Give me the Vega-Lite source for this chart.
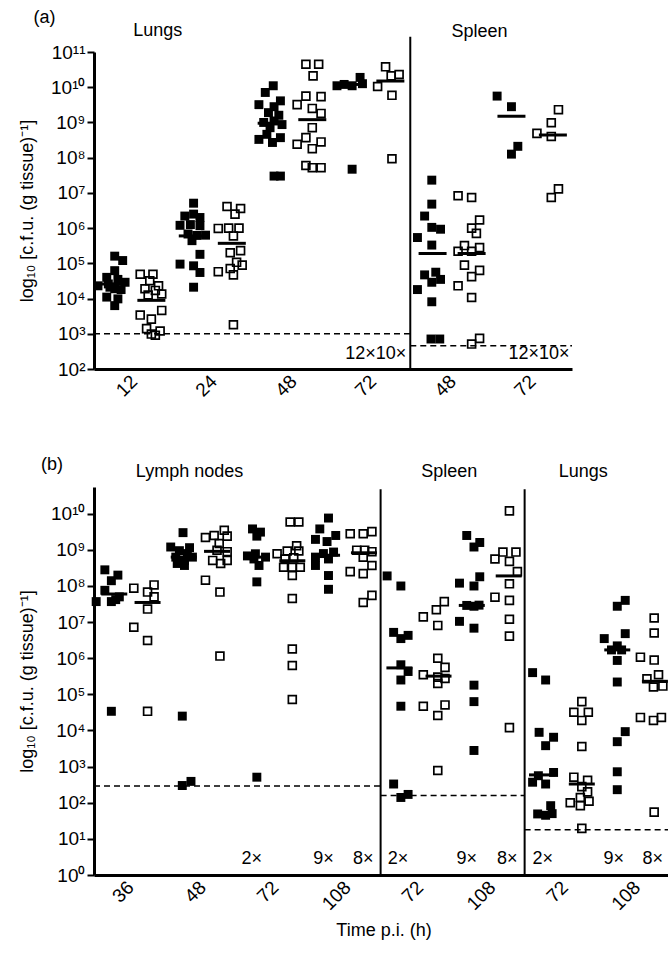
{
  "$schema": "https://vega.github.io/schema/vega-lite/v6.json",
  "background": "white",
  "padding": {"left": 18, "top": 8, "right": 0, "bottom": 0},
  "config": {
    "font": "Liberation Sans",
    "view": {"stroke": null},
    "axis": {"grid": false, "domainColor": "black", "domainWidth": 3, "tickColor": "black", "labelColor": "black", "titleColor": "black", "titleFontWeight": "normal", "labelOverlap": false, "labelBound": false, "labelFlush": false}
  },
  "spacing": 118,
  "bounds": "flush",
  "datasets": {
    "points_a": [
      {"organ":"Lungs","time":12,"group":1,"x":0.26,"cfu":1.6e5},{"organ":"Lungs","time":12,"group":1,"x":0.36,"cfu":1.2e5},{"organ":"Lungs","time":12,"group":1,"x":0.26,"cfu":6.2e4},{"organ":"Lungs","time":12,"group":1,"x":0.16,"cfu":4.0e4},{"organ":"Lungs","time":12,"group":1,"x":0.30,"cfu":3.5e4},{"organ":"Lungs","time":12,"group":1,"x":0.39,"cfu":2.9e4},{"organ":"Lungs","time":12,"group":1,"x":0.05,"cfu":2.3e4},{"organ":"Lungs","time":12,"group":1,"x":0.18,"cfu":2.6e4},{"organ":"Lungs","time":12,"group":1,"x":0.26,"cfu":1.9e4},{"organ":"Lungs","time":12,"group":1,"x":0.34,"cfu":1.8e4},{"organ":"Lungs","time":12,"group":1,"x":0.16,"cfu":1.1e4},{"organ":"Lungs","time":12,"group":1,"x":0.30,"cfu":9.8e3},{"organ":"Lungs","time":12,"group":1,"x":0.26,"cfu":6.3e3},{"organ":"Lungs","time":12,"group":1,"x":0.20,"cfu":2.1e4},
      {"organ":"Lungs","time":12,"group":2,"x":0.58,"cfu":4.9e4},{"organ":"Lungs","time":12,"group":2,"x":0.74,"cfu":4.9e4},{"organ":"Lungs","time":12,"group":2,"x":0.70,"cfu":3.2e4},{"organ":"Lungs","time":12,"group":2,"x":0.81,"cfu":2.3e4},{"organ":"Lungs","time":12,"group":2,"x":0.64,"cfu":1.9e4},{"organ":"Lungs","time":12,"group":2,"x":0.77,"cfu":1.7e4},{"organ":"Lungs","time":12,"group":2,"x":0.85,"cfu":1.35e4},{"organ":"Lungs","time":12,"group":2,"x":0.68,"cfu":1.26e4},{"organ":"Lungs","time":12,"group":2,"x":0.85,"cfu":4.6e3},{"organ":"Lungs","time":12,"group":2,"x":0.58,"cfu":3.4e3},{"organ":"Lungs","time":12,"group":2,"x":0.72,"cfu":2.6e3},{"organ":"Lungs","time":12,"group":2,"x":0.66,"cfu":1.4e3},{"organ":"Lungs","time":12,"group":2,"x":0.83,"cfu":1.2e3},{"organ":"Lungs","time":12,"group":2,"x":0.72,"cfu":9.8e2},{"organ":"Lungs","time":12,"group":2,"x":0.77,"cfu":9.1e2},
      {"organ":"Lungs","time":24,"group":1,"x":1.25,"cfu":5.1e6},{"organ":"Lungs","time":24,"group":1,"x":1.14,"cfu":2.2e6},{"organ":"Lungs","time":24,"group":1,"x":1.25,"cfu":2.5e6},{"organ":"Lungs","time":24,"group":1,"x":1.33,"cfu":2.0e6},{"organ":"Lungs","time":24,"group":1,"x":1.08,"cfu":1.2e6},{"organ":"Lungs","time":24,"group":1,"x":1.21,"cfu":1.26e6},{"organ":"Lungs","time":24,"group":1,"x":1.33,"cfu":1.17e6},{"organ":"Lungs","time":24,"group":1,"x":1.18,"cfu":6.8e5},{"organ":"Lungs","time":24,"group":1,"x":1.29,"cfu":6.2e5},{"organ":"Lungs","time":24,"group":1,"x":1.40,"cfu":6.3e5},{"organ":"Lungs","time":24,"group":1,"x":1.23,"cfu":4.4e5},{"organ":"Lungs","time":24,"group":1,"x":1.33,"cfu":1.8e5},{"organ":"Lungs","time":24,"group":1,"x":1.08,"cfu":9.5e4},{"organ":"Lungs","time":24,"group":1,"x":1.25,"cfu":8.5e4},{"organ":"Lungs","time":24,"group":1,"x":1.33,"cfu":5.5e4},{"organ":"Lungs","time":24,"group":1,"x":1.25,"cfu":2.1e4},
      {"organ":"Lungs","time":24,"group":2,"x":1.67,"cfu":4.1e6},{"organ":"Lungs","time":24,"group":2,"x":1.84,"cfu":3.6e6},{"organ":"Lungs","time":24,"group":2,"x":1.77,"cfu":2.5e6},{"organ":"Lungs","time":24,"group":2,"x":1.56,"cfu":9.8e5},{"organ":"Lungs","time":24,"group":2,"x":1.69,"cfu":1.0e6},{"organ":"Lungs","time":24,"group":2,"x":1.82,"cfu":1.0e6},{"organ":"Lungs","time":24,"group":2,"x":1.75,"cfu":6.0e5},{"organ":"Lungs","time":24,"group":2,"x":1.84,"cfu":2.3e5},{"organ":"Lungs","time":24,"group":2,"x":1.71,"cfu":2.0e5},{"organ":"Lungs","time":24,"group":2,"x":1.79,"cfu":1.07e5},{"organ":"Lungs","time":24,"group":2,"x":1.86,"cfu":8.9e4},{"organ":"Lungs","time":24,"group":2,"x":1.56,"cfu":5.8e4},{"organ":"Lungs","time":24,"group":2,"x":1.71,"cfu":7.1e4},{"organ":"Lungs","time":24,"group":2,"x":1.75,"cfu":4.7e4},{"organ":"Lungs","time":24,"group":2,"x":1.75,"cfu":1.8e3},
      {"organ":"Lungs","time":48,"group":1,"x":2.25,"cfu":1.1e10},{"organ":"Lungs","time":48,"group":1,"x":2.15,"cfu":7.1e9},{"organ":"Lungs","time":48,"group":1,"x":2.34,"cfu":4.1e9},{"organ":"Lungs","time":48,"group":1,"x":2.07,"cfu":3.2e9},{"organ":"Lungs","time":48,"group":1,"x":2.26,"cfu":2.8e9},{"organ":"Lungs","time":48,"group":1,"x":2.19,"cfu":1.9e9},{"organ":"Lungs","time":48,"group":1,"x":2.32,"cfu":1.6e9},{"organ":"Lungs","time":48,"group":1,"x":2.13,"cfu":1.0e9},{"organ":"Lungs","time":48,"group":1,"x":2.26,"cfu":1.1e9},{"organ":"Lungs","time":48,"group":1,"x":2.36,"cfu":8.7e8},{"organ":"Lungs","time":48,"group":1,"x":2.21,"cfu":7.1e8},{"organ":"Lungs","time":48,"group":1,"x":2.17,"cfu":4.6e8},{"organ":"Lungs","time":48,"group":1,"x":2.07,"cfu":3.3e8},{"organ":"Lungs","time":48,"group":1,"x":2.34,"cfu":3.7e8},{"organ":"Lungs","time":48,"group":1,"x":2.24,"cfu":2.7e8},{"organ":"Lungs","time":48,"group":1,"x":2.26,"cfu":3.0e7},{"organ":"Lungs","time":48,"group":1,"x":2.34,"cfu":3.0e7},
      {"organ":"Lungs","time":48,"group":2,"x":2.66,"cfu":4.5e10},{"organ":"Lungs","time":48,"group":2,"x":2.82,"cfu":4.5e10},{"organ":"Lungs","time":48,"group":2,"x":2.75,"cfu":2.1e10},{"organ":"Lungs","time":48,"group":2,"x":2.66,"cfu":5.6e9},{"organ":"Lungs","time":48,"group":2,"x":2.85,"cfu":5.4e9},{"organ":"Lungs","time":48,"group":2,"x":2.55,"cfu":3.2e9},{"organ":"Lungs","time":48,"group":2,"x":2.74,"cfu":2.5e9},{"organ":"Lungs","time":48,"group":2,"x":2.85,"cfu":1.8e9},{"organ":"Lungs","time":48,"group":2,"x":2.74,"cfu":7.1e8},{"organ":"Lungs","time":48,"group":2,"x":2.66,"cfu":3.7e8},{"organ":"Lungs","time":48,"group":2,"x":2.85,"cfu":2.8e8},{"organ":"Lungs","time":48,"group":2,"x":2.55,"cfu":2.4e8},{"organ":"Lungs","time":48,"group":2,"x":2.74,"cfu":1.8e8},{"organ":"Lungs","time":48,"group":2,"x":2.66,"cfu":6.0e7},{"organ":"Lungs","time":48,"group":2,"x":2.74,"cfu":5.2e7},{"organ":"Lungs","time":48,"group":2,"x":2.85,"cfu":5.2e7},
      {"organ":"Lungs","time":72,"group":1,"x":3.05,"cfu":1.1e10},{"organ":"Lungs","time":72,"group":1,"x":3.14,"cfu":1.2e10},{"organ":"Lungs","time":72,"group":1,"x":3.24,"cfu":1.1e10},{"organ":"Lungs","time":72,"group":1,"x":3.34,"cfu":1.9e10},{"organ":"Lungs","time":72,"group":1,"x":3.37,"cfu":1.26e10},{"organ":"Lungs","time":72,"group":1,"x":3.24,"cfu":4.7e7},
      {"organ":"Lungs","time":72,"group":2,"x":3.66,"cfu":3.8e10},{"organ":"Lungs","time":72,"group":2,"x":3.73,"cfu":2.1e10},{"organ":"Lungs","time":72,"group":2,"x":3.83,"cfu":2.3e10},{"organ":"Lungs","time":72,"group":2,"x":3.56,"cfu":1.05e10},{"organ":"Lungs","time":72,"group":2,"x":3.74,"cfu":5.9e9},{"organ":"Lungs","time":72,"group":2,"x":3.74,"cfu":9.3e7},
      {"organ":"Spleen","time":48,"group":1,"x":4.24,"cfu":2.3e7},{"organ":"Spleen","time":48,"group":1,"x":4.24,"cfu":4.8e6},{"organ":"Spleen","time":48,"group":1,"x":4.15,"cfu":2.2e6},{"organ":"Spleen","time":48,"group":1,"x":4.24,"cfu":1.05e6},{"organ":"Spleen","time":48,"group":1,"x":4.35,"cfu":9.3e5},{"organ":"Spleen","time":48,"group":1,"x":4.06,"cfu":5.4e5},{"organ":"Spleen","time":48,"group":1,"x":4.24,"cfu":3.3e5},{"organ":"Spleen","time":48,"group":1,"x":4.15,"cfu":4.7e4},{"organ":"Spleen","time":48,"group":1,"x":4.29,"cfu":5.6e4},{"organ":"Spleen","time":48,"group":1,"x":4.24,"cfu":2.9e4},{"organ":"Spleen","time":48,"group":1,"x":4.35,"cfu":3.5e4},{"organ":"Spleen","time":48,"group":1,"x":4.06,"cfu":1.8e4},{"organ":"Spleen","time":48,"group":1,"x":4.24,"cfu":8.1e3},{"organ":"Spleen","time":48,"group":1,"x":4.23,"cfu":7.1e2},{"organ":"Spleen","time":48,"group":1,"x":4.34,"cfu":7.1e2},
      {"organ":"Spleen","time":48,"group":2,"x":4.57,"cfu":8.3e6},{"organ":"Spleen","time":48,"group":2,"x":4.74,"cfu":7.4e6},{"organ":"Spleen","time":48,"group":2,"x":4.84,"cfu":1.7e6},{"organ":"Spleen","time":48,"group":2,"x":4.74,"cfu":1.0e6},{"organ":"Spleen","time":48,"group":2,"x":4.80,"cfu":7.1e5},{"organ":"Spleen","time":48,"group":2,"x":4.65,"cfu":3.2e5},{"organ":"Spleen","time":48,"group":2,"x":4.84,"cfu":2.8e5},{"organ":"Spleen","time":48,"group":2,"x":4.57,"cfu":2.2e5},{"organ":"Spleen","time":48,"group":2,"x":4.74,"cfu":2.2e5},{"organ":"Spleen","time":48,"group":2,"x":4.65,"cfu":8.9e4},{"organ":"Spleen","time":48,"group":2,"x":4.84,"cfu":6.3e4},{"organ":"Spleen","time":48,"group":2,"x":4.74,"cfu":4.2e4},{"organ":"Spleen","time":48,"group":2,"x":4.57,"cfu":2.3e4},{"organ":"Spleen","time":48,"group":2,"x":4.74,"cfu":1.07e4},{"organ":"Spleen","time":48,"group":2,"x":4.84,"cfu":7.4e2},{"organ":"Spleen","time":48,"group":2,"x":4.74,"cfu":5.1e2},
      {"organ":"Spleen","time":72,"group":1,"x":5.06,"cfu":5.6e9},{"organ":"Spleen","time":72,"group":1,"x":5.24,"cfu":2.8e9},{"organ":"Spleen","time":72,"group":1,"x":5.32,"cfu":2.1e8},{"organ":"Spleen","time":72,"group":1,"x":5.24,"cfu":1.26e8},
      {"organ":"Spleen","time":72,"group":2,"x":5.83,"cfu":2.3e9},{"organ":"Spleen","time":72,"group":2,"x":5.74,"cfu":9.8e8},{"organ":"Spleen","time":72,"group":2,"x":5.56,"cfu":4.9e8},{"organ":"Spleen","time":72,"group":2,"x":5.74,"cfu":4.0e8},{"organ":"Spleen","time":72,"group":2,"x":5.83,"cfu":1.3e7},{"organ":"Spleen","time":72,"group":2,"x":5.74,"cfu":7.4e6}
    ],
    "means_a": [
      {"organ":"Lungs","time":12,"group":1,"x":0.24,"cfu":2.6e4},{"organ":"Lungs","time":12,"group":2,"x":0.72,"cfu":8.9e3},
      {"organ":"Lungs","time":24,"group":1,"x":1.24,"cfu":6.0e5},{"organ":"Lungs","time":24,"group":2,"x":1.73,"cfu":3.7e5},
      {"organ":"Lungs","time":48,"group":1,"x":2.23,"cfu":9.5e8},{"organ":"Lungs","time":48,"group":2,"x":2.74,"cfu":1.2e9},
      {"organ":"Lungs","time":72,"group":1,"x":3.23,"cfu":1.2e10},{"organ":"Lungs","time":72,"group":2,"x":3.72,"cfu":1.5e10},
      {"organ":"Spleen","time":48,"group":1,"x":4.25,"cfu":1.9e5},{"organ":"Spleen","time":48,"group":2,"x":4.74,"cfu":1.9e5},
      {"organ":"Spleen","time":72,"group":1,"x":5.24,"cfu":1.5e9},{"organ":"Spleen","time":72,"group":2,"x":5.76,"cfu":4.4e8}
    ],
    "limits_a": [
      {"organ":"Lungs","x":0,"x2":3.97,"cfu":1e3},{"organ":"Spleen","x":3.97,"x2":6,"cfu":460}
    ],
    "dividers_a": [{"x":3.97,"cfu":100,"cfu2":2.7e11}],
    "titles_a": [
      {"label":"(a)","x":-0.62,"cfu":9.3e11},{"label":"Lungs","x":0.80,"cfu":4.0e11},{"label":"Spleen","x":4.84,"cfu":3.8e11}
    ],
    "notes_a": [
      {"label":"12×10×","x":3.92,"cfu":2.6e2},{"label":"12×10×","x":5.97,"cfu":2.6e2}
    ],
    "points_b": [
      {"organ":"Lymph nodes","time":36,"group":1,"x":0.15,"cfu":2.8e8},{"organ":"Lymph nodes","time":36,"group":1,"x":0.33,"cfu":2.0e8},{"organ":"Lymph nodes","time":36,"group":1,"x":0.24,"cfu":1.4e8},{"organ":"Lymph nodes","time":36,"group":1,"x":0.15,"cfu":7.6e7},{"organ":"Lymph nodes","time":36,"group":1,"x":0.35,"cfu":5.0e7},{"organ":"Lymph nodes","time":36,"group":1,"x":0.03,"cfu":3.7e7},{"organ":"Lymph nodes","time":36,"group":1,"x":0.24,"cfu":3.7e7},{"organ":"Lymph nodes","time":36,"group":1,"x":0.30,"cfu":4.2e7},{"organ":"Lymph nodes","time":36,"group":1,"x":0.24,"cfu":3.4e4},
      {"organ":"Lymph nodes","time":36,"group":2,"x":0.55,"cfu":8.7e7},{"organ":"Lymph nodes","time":36,"group":2,"x":0.83,"cfu":1.07e8},{"organ":"Lymph nodes","time":36,"group":2,"x":0.74,"cfu":6.8e7},{"organ":"Lymph nodes","time":36,"group":2,"x":0.83,"cfu":5.0e7},{"organ":"Lymph nodes","time":36,"group":2,"x":0.74,"cfu":2.3e7},{"organ":"Lymph nodes","time":36,"group":2,"x":0.55,"cfu":7.2e6},{"organ":"Lymph nodes","time":36,"group":2,"x":0.74,"cfu":3.1e6},{"organ":"Lymph nodes","time":36,"group":2,"x":0.74,"cfu":3.4e4},
      {"organ":"Lymph nodes","time":48,"group":1,"x":1.23,"cfu":3.0e9},{"organ":"Lymph nodes","time":48,"group":1,"x":1.06,"cfu":1.2e9},{"organ":"Lymph nodes","time":48,"group":1,"x":1.32,"cfu":1.15e9},{"organ":"Lymph nodes","time":48,"group":1,"x":1.18,"cfu":9.5e8},{"organ":"Lymph nodes","time":48,"group":1,"x":1.13,"cfu":6.3e8},{"organ":"Lymph nodes","time":48,"group":1,"x":1.36,"cfu":6.3e8},{"organ":"Lymph nodes","time":48,"group":1,"x":1.25,"cfu":5.1e8},{"organ":"Lymph nodes","time":48,"group":1,"x":1.25,"cfu":3.7e8},{"organ":"Lymph nodes","time":48,"group":1,"x":1.15,"cfu":4.2e8},{"organ":"Lymph nodes","time":48,"group":1,"x":1.29,"cfu":7.9e8},{"organ":"Lymph nodes","time":48,"group":1,"x":1.22,"cfu":2.5e4},{"organ":"Lymph nodes","time":48,"group":1,"x":1.22,"cfu":3.0e2},{"organ":"Lymph nodes","time":48,"group":1,"x":1.34,"cfu":3.9e2},
      {"organ":"Lymph nodes","time":48,"group":2,"x":1.80,"cfu":3.5e9},{"organ":"Lymph nodes","time":48,"group":2,"x":1.54,"cfu":2.2e9},{"organ":"Lymph nodes","time":48,"group":2,"x":1.66,"cfu":2.5e9},{"organ":"Lymph nodes","time":48,"group":2,"x":1.84,"cfu":2.4e9},{"organ":"Lymph nodes","time":48,"group":2,"x":1.73,"cfu":1.5e9},{"organ":"Lymph nodes","time":48,"group":2,"x":1.70,"cfu":9.8e8},{"organ":"Lymph nodes","time":48,"group":2,"x":1.84,"cfu":8.9e8},{"organ":"Lymph nodes","time":48,"group":2,"x":1.64,"cfu":5.1e8},{"organ":"Lymph nodes","time":48,"group":2,"x":1.84,"cfu":5.1e8},{"organ":"Lymph nodes","time":48,"group":2,"x":1.75,"cfu":4.2e8},{"organ":"Lymph nodes","time":48,"group":2,"x":1.54,"cfu":1.45e8},{"organ":"Lymph nodes","time":48,"group":2,"x":1.74,"cfu":6.8e7},{"organ":"Lymph nodes","time":48,"group":2,"x":1.74,"cfu":1.15e6},
      {"organ":"Lymph nodes","time":72,"group":1,"x":2.19,"cfu":3.8e9},{"organ":"Lymph nodes","time":72,"group":1,"x":2.30,"cfu":3.1e9},{"organ":"Lymph nodes","time":72,"group":1,"x":2.25,"cfu":2.4e9},{"organ":"Lymph nodes","time":72,"group":1,"x":2.23,"cfu":7.8e8},{"organ":"Lymph nodes","time":72,"group":1,"x":2.12,"cfu":6.8e8},{"organ":"Lymph nodes","time":72,"group":1,"x":2.37,"cfu":6.3e8},{"organ":"Lymph nodes","time":72,"group":1,"x":2.21,"cfu":5.6e8},{"organ":"Lymph nodes","time":72,"group":1,"x":2.28,"cfu":3.7e8},{"organ":"Lymph nodes","time":72,"group":1,"x":2.25,"cfu":1.3e8},{"organ":"Lymph nodes","time":72,"group":1,"x":2.25,"cfu":5.1e2},
      {"organ":"Lymph nodes","time":72,"group":2,"x":2.71,"cfu":5.9e9},{"organ":"Lymph nodes","time":72,"group":2,"x":2.83,"cfu":5.9e9},{"organ":"Lymph nodes","time":72,"group":2,"x":2.80,"cfu":1.3e9},{"organ":"Lymph nodes","time":72,"group":2,"x":2.53,"cfu":7.8e8},{"organ":"Lymph nodes","time":72,"group":2,"x":2.67,"cfu":9.3e8},{"organ":"Lymph nodes","time":72,"group":2,"x":2.83,"cfu":9.3e8},{"organ":"Lymph nodes","time":72,"group":2,"x":2.64,"cfu":5.6e8},{"organ":"Lymph nodes","time":72,"group":2,"x":2.76,"cfu":6.0e8},{"organ":"Lymph nodes","time":72,"group":2,"x":2.62,"cfu":3.3e8},{"organ":"Lymph nodes","time":72,"group":2,"x":2.74,"cfu":3.3e8},{"organ":"Lymph nodes","time":72,"group":2,"x":2.85,"cfu":3.3e8},{"organ":"Lymph nodes","time":72,"group":2,"x":2.74,"cfu":1.95e8},{"organ":"Lymph nodes","time":72,"group":2,"x":2.74,"cfu":4.5e7},{"organ":"Lymph nodes","time":72,"group":2,"x":2.74,"cfu":1.8e6},{"organ":"Lymph nodes","time":72,"group":2,"x":2.74,"cfu":6.3e5},{"organ":"Lymph nodes","time":72,"group":2,"x":2.74,"cfu":7.2e4},
      {"organ":"Lymph nodes","time":108,"group":1,"x":3.24,"cfu":7.6e9},{"organ":"Lymph nodes","time":108,"group":1,"x":3.12,"cfu":3.8e9},{"organ":"Lymph nodes","time":108,"group":1,"x":3.06,"cfu":1.95e9},{"organ":"Lymph nodes","time":108,"group":1,"x":3.34,"cfu":2.5e9},{"organ":"Lymph nodes","time":108,"group":1,"x":3.22,"cfu":1.7e9},{"organ":"Lymph nodes","time":108,"group":1,"x":3.31,"cfu":8.7e8},{"organ":"Lymph nodes","time":108,"group":1,"x":3.17,"cfu":7.9e8},{"organ":"Lymph nodes","time":108,"group":1,"x":3.06,"cfu":6.3e8},{"organ":"Lymph nodes","time":108,"group":1,"x":3.24,"cfu":5.6e8},{"organ":"Lymph nodes","time":108,"group":1,"x":3.06,"cfu":3.7e8},{"organ":"Lymph nodes","time":108,"group":1,"x":3.24,"cfu":1.95e8},{"organ":"Lymph nodes","time":108,"group":1,"x":3.24,"cfu":8.1e7},
      {"organ":"Lymph nodes","time":108,"group":2,"x":3.54,"cfu":2.8e9},{"organ":"Lymph nodes","time":108,"group":2,"x":3.72,"cfu":2.8e9},{"organ":"Lymph nodes","time":108,"group":2,"x":3.84,"cfu":3.2e9},{"organ":"Lymph nodes","time":108,"group":2,"x":3.63,"cfu":9.8e8},{"organ":"Lymph nodes","time":108,"group":2,"x":3.74,"cfu":9.8e8},{"organ":"Lymph nodes","time":108,"group":2,"x":3.84,"cfu":8.9e8},{"organ":"Lymph nodes","time":108,"group":2,"x":3.72,"cfu":6.3e8},{"organ":"Lymph nodes","time":108,"group":2,"x":3.84,"cfu":3.7e8},{"organ":"Lymph nodes","time":108,"group":2,"x":3.54,"cfu":2.5e8},{"organ":"Lymph nodes","time":108,"group":2,"x":3.72,"cfu":2.2e8},{"organ":"Lymph nodes","time":108,"group":2,"x":3.84,"cfu":5.5e7},{"organ":"Lymph nodes","time":108,"group":2,"x":3.72,"cfu":3.5e7},
      {"organ":"Spleen","time":72,"group":1,"x":4.05,"cfu":1.9e8},{"organ":"Spleen","time":72,"group":1,"x":4.24,"cfu":1.0e8},{"organ":"Spleen","time":72,"group":1,"x":4.14,"cfu":5.2e6},{"organ":"Spleen","time":72,"group":1,"x":4.24,"cfu":3.5e6},{"organ":"Spleen","time":72,"group":1,"x":4.34,"cfu":4.3e6},{"organ":"Spleen","time":72,"group":1,"x":4.24,"cfu":6.6e5},{"organ":"Spleen","time":72,"group":1,"x":4.34,"cfu":4.3e5},{"organ":"Spleen","time":72,"group":1,"x":4.24,"cfu":2.5e5},{"organ":"Spleen","time":72,"group":1,"x":4.24,"cfu":4.7e4},{"organ":"Spleen","time":72,"group":1,"x":4.14,"cfu":3.3e2},{"organ":"Spleen","time":72,"group":1,"x":4.24,"cfu":1.4e2},{"organ":"Spleen","time":72,"group":1,"x":4.34,"cfu":1.7e2},
      {"organ":"Spleen","time":72,"group":2,"x":4.84,"cfu":3.7e7},{"organ":"Spleen","time":72,"group":2,"x":4.73,"cfu":2.2e7},{"organ":"Spleen","time":72,"group":2,"x":4.55,"cfu":1.4e7},{"organ":"Spleen","time":72,"group":2,"x":4.75,"cfu":8.1e6},{"organ":"Spleen","time":72,"group":2,"x":4.75,"cfu":1.0e6},{"organ":"Spleen","time":72,"group":2,"x":4.85,"cfu":5.6e5},{"organ":"Spleen","time":72,"group":2,"x":4.55,"cfu":3.5e5},{"organ":"Spleen","time":72,"group":2,"x":4.75,"cfu":3.0e5},{"organ":"Spleen","time":72,"group":2,"x":4.85,"cfu":2.75e5},{"organ":"Spleen","time":72,"group":2,"x":4.75,"cfu":2.0e5},{"organ":"Spleen","time":72,"group":2,"x":4.85,"cfu":5.1e4},{"organ":"Spleen","time":72,"group":2,"x":4.55,"cfu":4.7e4},{"organ":"Spleen","time":72,"group":2,"x":4.75,"cfu":2.6e4},{"organ":"Spleen","time":72,"group":2,"x":4.75,"cfu":7.8e2},
      {"organ":"Spleen","time":108,"group":1,"x":5.15,"cfu":2.5e9},{"organ":"Spleen","time":108,"group":1,"x":5.25,"cfu":1.2e9},{"organ":"Spleen","time":108,"group":1,"x":5.33,"cfu":1.6e9},{"organ":"Spleen","time":108,"group":1,"x":5.05,"cfu":1.2e8},{"organ":"Spleen","time":108,"group":1,"x":5.25,"cfu":1.0e8},{"organ":"Spleen","time":108,"group":1,"x":5.33,"cfu":1.8e8},{"organ":"Spleen","time":108,"group":1,"x":5.15,"cfu":2.9e7},{"organ":"Spleen","time":108,"group":1,"x":5.25,"cfu":2.75e7},{"organ":"Spleen","time":108,"group":1,"x":5.32,"cfu":2.95e7},{"organ":"Spleen","time":108,"group":1,"x":5.05,"cfu":1.05e7},{"organ":"Spleen","time":108,"group":1,"x":5.25,"cfu":6.8e6},{"organ":"Spleen","time":108,"group":1,"x":5.25,"cfu":1.8e5},{"organ":"Spleen","time":108,"group":1,"x":5.25,"cfu":6.3e4},{"organ":"Spleen","time":108,"group":1,"x":5.25,"cfu":2.8e3},
      {"organ":"Spleen","time":108,"group":2,"x":5.74,"cfu":1.2e10},{"organ":"Spleen","time":108,"group":2,"x":5.65,"cfu":8.7e8},{"organ":"Spleen","time":108,"group":2,"x":5.83,"cfu":8.7e8},{"organ":"Spleen","time":108,"group":2,"x":5.54,"cfu":5.6e8},{"organ":"Spleen","time":108,"group":2,"x":5.74,"cfu":4.8e8},{"organ":"Spleen","time":108,"group":2,"x":5.85,"cfu":2.5e8},{"organ":"Spleen","time":108,"group":2,"x":5.74,"cfu":1.15e8},{"organ":"Spleen","time":108,"group":2,"x":5.54,"cfu":4.9e7},{"organ":"Spleen","time":108,"group":2,"x":5.74,"cfu":4.0e7},{"organ":"Spleen","time":108,"group":2,"x":5.74,"cfu":1.2e7},{"organ":"Spleen","time":108,"group":2,"x":5.74,"cfu":4.1e6},{"organ":"Spleen","time":108,"group":2,"x":5.74,"cfu":1.2e4},
      {"organ":"Lungs","time":72,"group":1,"x":6.06,"cfu":4.0e5},{"organ":"Lungs","time":72,"group":1,"x":6.24,"cfu":2.5e5},{"organ":"Lungs","time":72,"group":1,"x":6.15,"cfu":8.9e3},{"organ":"Lungs","time":72,"group":1,"x":6.35,"cfu":6.5e3},{"organ":"Lungs","time":72,"group":1,"x":6.24,"cfu":3.8e3},{"organ":"Lungs","time":72,"group":1,"x":6.35,"cfu":6.9e2},{"organ":"Lungs","time":72,"group":1,"x":6.06,"cfu":3.7e2},{"organ":"Lungs","time":72,"group":1,"x":6.24,"cfu":3.3e2},{"organ":"Lungs","time":72,"group":1,"x":6.14,"cfu":5.6e2},{"organ":"Lungs","time":72,"group":1,"x":6.13,"cfu":49},{"organ":"Lungs","time":72,"group":1,"x":6.24,"cfu":45},{"organ":"Lungs","time":72,"group":1,"x":6.31,"cfu":83},{"organ":"Lungs","time":72,"group":1,"x":6.33,"cfu":50},
      {"organ":"Lungs","time":72,"group":2,"x":6.74,"cfu":6.3e4},{"organ":"Lungs","time":72,"group":2,"x":6.63,"cfu":3.2e4},{"organ":"Lungs","time":72,"group":2,"x":6.83,"cfu":3.2e4},{"organ":"Lungs","time":72,"group":2,"x":6.74,"cfu":1.9e4},{"organ":"Lungs","time":72,"group":2,"x":6.74,"cfu":3.6e3},{"organ":"Lungs","time":72,"group":2,"x":6.63,"cfu":5.1e2},{"organ":"Lungs","time":72,"group":2,"x":6.82,"cfu":4.2e2},{"organ":"Lungs","time":72,"group":2,"x":6.74,"cfu":2.8e2},{"organ":"Lungs","time":72,"group":2,"x":6.58,"cfu":1.0e2},{"organ":"Lungs","time":72,"group":2,"x":6.72,"cfu":1.4e2},{"organ":"Lungs","time":72,"group":2,"x":6.82,"cfu":2.0e2},{"organ":"Lungs","time":72,"group":2,"x":6.84,"cfu":1.1e2},{"organ":"Lungs","time":72,"group":2,"x":6.72,"cfu":83},{"organ":"Lungs","time":72,"group":2,"x":6.74,"cfu":19.5},
      {"organ":"Lungs","time":108,"group":1,"x":7.34,"cfu":4.0e7},{"organ":"Lungs","time":108,"group":1,"x":7.23,"cfu":2.75e7},{"organ":"Lungs","time":108,"group":1,"x":7.34,"cfu":4.8e6},{"organ":"Lungs","time":108,"group":1,"x":7.05,"cfu":3.5e6},{"organ":"Lungs","time":108,"group":1,"x":7.23,"cfu":2.2e6},{"organ":"Lungs","time":108,"group":1,"x":7.15,"cfu":1.7e6},{"organ":"Lungs","time":108,"group":1,"x":7.29,"cfu":1.7e6},{"organ":"Lungs","time":108,"group":1,"x":7.23,"cfu":8.7e5},{"organ":"Lungs","time":108,"group":1,"x":7.23,"cfu":2.2e5},{"organ":"Lungs","time":108,"group":1,"x":7.34,"cfu":9.3e3},{"organ":"Lungs","time":108,"group":1,"x":7.23,"cfu":4.9e3},{"organ":"Lungs","time":108,"group":1,"x":7.23,"cfu":7.2e2},{"organ":"Lungs","time":108,"group":1,"x":7.23,"cfu":2.3e2},
      {"organ":"Lungs","time":108,"group":2,"x":7.74,"cfu":1.3e7},{"organ":"Lungs","time":108,"group":2,"x":7.74,"cfu":5.0e6},{"organ":"Lungs","time":108,"group":2,"x":7.55,"cfu":1.07e6},{"organ":"Lungs","time":108,"group":2,"x":7.74,"cfu":8.9e5},{"organ":"Lungs","time":108,"group":2,"x":7.64,"cfu":2.7e5},{"organ":"Lungs","time":108,"group":2,"x":7.80,"cfu":3.5e5},{"organ":"Lungs","time":108,"group":2,"x":7.73,"cfu":1.6e5},{"organ":"Lungs","time":108,"group":2,"x":7.86,"cfu":1.7e5},{"organ":"Lungs","time":108,"group":2,"x":7.55,"cfu":2.3e4},{"organ":"Lungs","time":108,"group":2,"x":7.73,"cfu":1.9e4},{"organ":"Lungs","time":108,"group":2,"x":7.84,"cfu":2.3e4},{"organ":"Lungs","time":108,"group":2,"x":7.74,"cfu":55}
    ],
    "means_b": [
      {"organ":"Lymph nodes","time":36,"group":1,"x":0.28,"cfu":6.0e7},{"organ":"Lymph nodes","time":36,"group":2,"x":0.74,"cfu":3.5e7},
      {"organ":"Lymph nodes","time":48,"group":1,"x":1.24,"cfu":6.3e8},{"organ":"Lymph nodes","time":48,"group":2,"x":1.70,"cfu":9.1e8},
      {"organ":"Lymph nodes","time":72,"group":1,"x":2.25,"cfu":6.3e8},{"organ":"Lymph nodes","time":72,"group":2,"x":2.74,"cfu":5.0e8},
      {"organ":"Lymph nodes","time":108,"group":1,"x":3.22,"cfu":7.1e8},{"organ":"Lymph nodes","time":108,"group":2,"x":3.73,"cfu":8.3e8},
      {"organ":"Spleen","time":72,"group":1,"x":4.22,"cfu":5.4e5},{"organ":"Spleen","time":72,"group":2,"x":4.76,"cfu":3.2e5},
      {"organ":"Spleen","time":108,"group":1,"x":5.22,"cfu":2.9e7},{"organ":"Spleen","time":108,"group":2,"x":5.73,"cfu":1.9e8},
      {"organ":"Lungs","time":72,"group":1,"x":6.19,"cfu":5.9e2},{"organ":"Lungs","time":72,"group":2,"x":6.74,"cfu":3.3e2},
      {"organ":"Lungs","time":108,"group":1,"x":7.23,"cfu":1.7e6},{"organ":"Lungs","time":108,"group":2,"x":7.75,"cfu":2.3e5}
    ],
    "limits_b": [
      {"organ":"Lymph nodes","x":0,"x2":3.96,"cfu":290},{"organ":"Spleen","x":3.96,"x2":5.95,"cfu":160},{"organ":"Lungs","x":5.95,"x2":8,"cfu":18}
    ],
    "dividers_b": [{"x":3.96,"cfu":1,"cfu2":4.8e10},{"x":5.95,"cfu":1,"cfu2":4.8e10}],
    "titles_b": [
      {"label":"(b)","x":-0.58,"cfu":2.2e11},{"label":"Lymph nodes","x":1.32,"cfu":1.4e11},{"label":"Spleen","x":4.91,"cfu":1.4e11},{"label":"Lungs","x":6.76,"cfu":1.4e11}
    ],
    "notes_b": [
      {"label":"2×","x":2.18,"cfu":2.7},{"label":"9×","x":3.17,"cfu":2.7},{"label":"8×","x":3.72,"cfu":2.7},
      {"label":"2×","x":4.20,"cfu":2.7},{"label":"9×","x":5.15,"cfu":2.7},{"label":"8×","x":5.71,"cfu":2.7},
      {"label":"2×","x":6.20,"cfu":2.7},{"label":"9×","x":7.18,"cfu":2.7},{"label":"8×","x":7.72,"cfu":2.7}
    ]
  },
  "vconcat": [
    {
      "width": 478,
      "height": 317,
      "encoding": {
        "x": {"field": "x", "type": "quantitative", "scale": {"domain": [0, 6], "nice": false, "zero": false},
          "axis": {"values": [0.5, 1.5, 2.5, 3.5, 4.5, 5.5], "labelExpr": "['12','24','48','72','48','72'][floor(datum.value)]", "ticks": false, "labelAngle": -45, "labelAlign": "right", "labelBaseline": "middle", "labelPadding": 9, "labelFontSize": 19, "title": null}},
        "y": {"field": "cfu", "type": "quantitative", "scale": {"type": "log", "domain": [100, 1e11], "nice": false},
          "axis": {"values": [1e2, 1e3, 1e4, 1e5, 1e6, 1e7, 1e8, 1e9, 1e10, 1e11], "labelExpr": "'10' + ['⁰','¹','²','³','⁴','⁵','⁶','⁷','⁸','⁹','¹⁰','¹¹'][round(log(datum.value)/LN10)]", "tickSize": 7, "tickWidth": 2, "labelFontSize": 19, "labelPadding": 2, "title": "log₁₀ [c.f.u. (g tissue)⁻¹]", "titleFontSize": 18, "titlePadding": 14}}
      },
      "layer": [
        {"data": {"name": "limits_a"}, "mark": {"type": "rule", "strokeDash": [6, 4], "strokeWidth": 1.5, "color": "black"}, "encoding": {"x2": {"field": "x2"}}},
        {"data": {"name": "dividers_a"}, "mark": {"type": "rule", "strokeWidth": 2, "color": "black"}, "encoding": {"y2": {"field": "cfu2"}}},
        {"data": {"name": "points_a"}, "transform": [{"filter": "datum.group == 1"}], "mark": {"type": "point", "shape": "square", "filled": true, "size": 80, "color": "black", "opacity": 1}},
        {"data": {"name": "points_a"}, "transform": [{"filter": "datum.group == 2"}], "mark": {"type": "point", "shape": "square", "filled": false, "size": 62, "color": "black", "strokeWidth": 1.7, "opacity": 1}},
        {"data": {"name": "means_a"}, "mark": {"type": "tick", "orient": "horizontal", "size": 28, "thickness": 3, "color": "black", "opacity": 1}},
        {"data": {"name": "titles_a"}, "mark": {"type": "text", "fontSize": 18, "align": "center", "baseline": "middle", "color": "black"}, "encoding": {"text": {"field": "label"}}},
        {"data": {"name": "notes_a"}, "mark": {"type": "text", "fontSize": 18, "align": "right", "baseline": "middle", "color": "black"}, "encoding": {"text": {"field": "label"}}}
      ]
    },
    {
      "width": 579,
      "height": 388,
      "encoding": {
        "x": {"field": "x", "type": "quantitative", "scale": {"domain": [0, 8], "nice": false, "zero": false},
          "axis": {"values": [0.5, 1.5, 2.5, 3.5, 4.5, 5.5, 6.5, 7.5], "labelExpr": "['36','48','72','108','72','108','72','108'][floor(datum.value)]", "ticks": false, "labelAngle": -45, "labelAlign": "right", "labelBaseline": "middle", "labelPadding": 9, "labelFontSize": 19, "title": "Time p.i. (h)", "titleFontSize": 18, "titlePadding": 8}},
        "y": {"field": "cfu", "type": "quantitative", "scale": {"type": "log", "domain": [1, 5.5e10], "nice": false},
          "axis": {"values": [1, 10, 1e2, 1e3, 1e4, 1e5, 1e6, 1e7, 1e8, 1e9, 1e10], "labelExpr": "'10' + ['⁰','¹','²','³','⁴','⁵','⁶','⁷','⁸','⁹','¹⁰','¹¹'][round(log(datum.value)/LN10)]", "tickSize": 7, "tickWidth": 2, "labelFontSize": 19, "labelPadding": 2, "title": "log₁₀ [c.f.u. (g tissue)⁻¹]", "titleFontSize": 18, "titlePadding": 14}}
      },
      "layer": [
        {"data": {"name": "limits_b"}, "mark": {"type": "rule", "strokeDash": [6, 4], "strokeWidth": 1.5, "color": "black"}, "encoding": {"x2": {"field": "x2"}}},
        {"data": {"name": "dividers_b"}, "mark": {"type": "rule", "strokeWidth": 2, "color": "black"}, "encoding": {"y2": {"field": "cfu2"}}},
        {"data": {"name": "points_b"}, "transform": [{"filter": "datum.group == 1"}], "mark": {"type": "point", "shape": "square", "filled": true, "size": 80, "color": "black", "opacity": 1}},
        {"data": {"name": "points_b"}, "transform": [{"filter": "datum.group == 2"}], "mark": {"type": "point", "shape": "square", "filled": false, "size": 62, "color": "black", "strokeWidth": 1.7, "opacity": 1}},
        {"data": {"name": "means_b"}, "mark": {"type": "tick", "orient": "horizontal", "size": 26, "thickness": 3, "color": "black", "opacity": 1}},
        {"data": {"name": "titles_b"}, "mark": {"type": "text", "fontSize": 18, "align": "center", "baseline": "middle", "color": "black"}, "encoding": {"text": {"field": "label"}}},
        {"data": {"name": "notes_b"}, "mark": {"type": "text", "fontSize": 18, "align": "center", "baseline": "middle", "color": "black"}, "encoding": {"text": {"field": "label"}}}
      ]
    }
  ]
}
